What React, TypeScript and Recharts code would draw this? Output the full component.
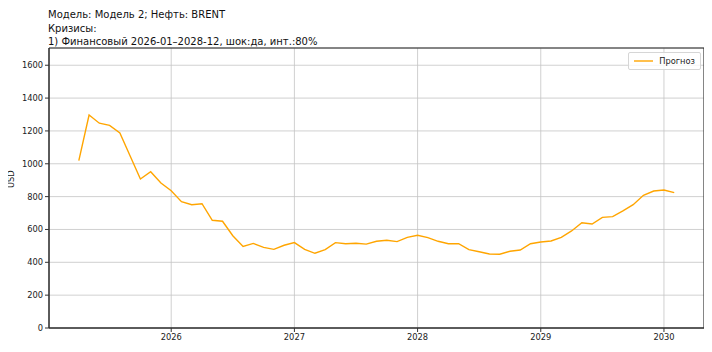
import React from 'react';
import { LineChart, Line, XAxis, YAxis, CartesianGrid, ReferenceArea } from 'recharts';

const months = [
  '2025-04', '2025-05', '2025-06', '2025-07', '2025-08', '2025-09', '2025-10', '2025-11', '2025-12',
  '2026-01', '2026-02', '2026-03', '2026-04', '2026-05', '2026-06', '2026-07', '2026-08', '2026-09', '2026-10', '2026-11', '2026-12',
  '2027-01', '2027-02', '2027-03', '2027-04', '2027-05', '2027-06', '2027-07', '2027-08', '2027-09', '2027-10', '2027-11', '2027-12',
  '2028-01', '2028-02', '2028-03', '2028-04', '2028-05', '2028-06', '2028-07', '2028-08', '2028-09', '2028-10', '2028-11', '2028-12',
  '2029-01', '2029-02', '2029-03', '2029-04', '2029-05', '2029-06', '2029-07', '2029-08', '2029-09', '2029-10', '2029-11', '2029-12',
  '2030-01', '2030-02',
];

const forecast = [
  1019, 1297, 1247, 1234, 1188, 1047, 907, 952, 883,
  836, 769, 751, 757, 656, 650, 562, 497, 515, 491, 479, 504,
  520, 479, 455, 477, 520, 513, 516, 511, 528, 534, 526, 552,
  565, 550, 528, 513, 513, 477, 464, 451, 449, 467, 475, 513,
  524, 530, 552, 591, 641, 633, 674, 678, 713, 751, 808, 834,
  840, 824,
];

const yearTicks = [2026, 2027, 2028, 2029, 2030];
const usdTicks = [0, 200, 400, 600, 800, 1000, 1200, 1400, 1600];

const titleLines = [
  'Модель: Модель 2; Нефть: BRENT',
  'Кризисы:',
  '1) Финансовый 2026-01–2028-12, шок:да, инт.:80%',
];

const FONT = '"DejaVu Sans", sans-serif';
const LINE_COLOR = '#FFA500';
const X_DOMAIN: [number, number] = [2025.008, 2030.325];
const Y_DOMAIN: [number, number] = [0, 1705];

const chartData = months.map((m, i) => {
  const [y, mo] = m.split('-').map(Number);
  return { t: y + (mo - 1) / 12, forecast: forecast[i] };
});

// legend drawn as an overlay so it does not push the plot area down
const LegendBox = () => (
  <div
    style={{
      position: 'absolute',
      right: 11,
      top: 52,
      fontFamily: FONT,
      fontSize: 8.3,
      color: '#222',
      background: 'rgba(255,255,255,0.8)',
      border: '1px solid #d6d6d6',
      borderRadius: 2,
      padding: '2px 5px 2px 3px',
      display: 'flex',
      alignItems: 'center',
      height: 12,
    }}
  >
    <svg width={24} height={6} style={{ marginRight: 3 }}>
      <line x1={2} y1={3} x2={21} y2={3} stroke={LINE_COLOR} strokeWidth={1.4} />
    </svg>
    Прогноз
  </div>
);

const App: React.FC = () => {
  return (
    <div style={{ position: 'relative', width: 712, height: 352, margin: -8, background: '#fff' }}>
      <div style={{ position: 'absolute', left: 48, top: 8, fontFamily: FONT, fontSize: 10, lineHeight: '13.5px', color: '#111', zIndex: 2 }}>
        {titleLines.map(l => (
          <div key={l}>{l}</div>
        ))}
      </div>
      <LineChart width={712} height={352} data={chartData} margin={{ top: 48, right: 8, bottom: 0, left: 9 }}>
        <CartesianGrid stroke="#c4c4c4" strokeWidth={0.8} />
        <XAxis
          dataKey="t"
          type="number"
          domain={X_DOMAIN}
          ticks={yearTicks}
          allowDataOverflow
          height={24}
          tickSize={4}
          tickLine={{ stroke: '#333' }}
          axisLine={{ stroke: '#333' }}
          tick={{ fontFamily: FONT, fontSize: 8.3, fill: '#222' }}
          tickFormatter={(v: number) => String(Math.round(v))}
        />
        <YAxis
          type="number"
          domain={Y_DOMAIN}
          ticks={usdTicks}
          allowDataOverflow
          width={40}
          tickSize={4}
          tickLine={{ stroke: '#333' }}
          axisLine={{ stroke: '#333' }}
          tick={{ fontFamily: FONT, fontSize: 8.3, fill: '#222' }}
          label={{ value: 'USD', angle: -90, position: 'insideLeft', offset: 2, style: { fontFamily: FONT, fontSize: 8.3, fill: '#222' } }}
        />
        <ReferenceArea x1={X_DOMAIN[0]} x2={X_DOMAIN[1]} y1={Y_DOMAIN[0]} y2={Y_DOMAIN[1]} fill="none" stroke="#222" strokeWidth={1} />
        <Line type="linear" dataKey="forecast" name="Прогноз" stroke={LINE_COLOR} strokeWidth={1.4} dot={false} isAnimationActive={false} />
      </LineChart>
      <LegendBox />
    </div>
  );
};

export default App;
